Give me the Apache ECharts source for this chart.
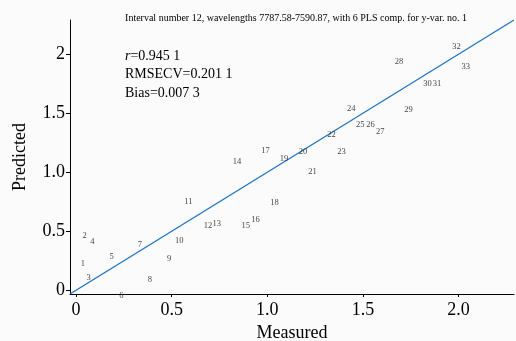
<!DOCTYPE html>
<html>
<head>
<meta charset="utf-8">
<script src="https://cdn.jsdelivr.net/npm/echarts@6/dist/echarts.min.js"></script>
<style>
  html, body { margin: 0; padding: 0; background: #fbfbfb; }
  #chart { width: 516px; height: 341px; }
</style>
</head>
<body>
<div id="chart"></div>
<script>
// sample numbers shown as point labels
const sampleIds = [1, 2, 3, 4, 5, 6, 7, 8, 9, 10, 11, 12, 13, 14, 15, 16, 17,
  18, 19, 20, 21, 22, 23, 24, 25, 26, 27, 28, 29, 30, 31, 32, 33];

// measured values (x)
const measured = [0.035, 0.044, 0.066, 0.085, 0.186, 0.237, 0.334, 0.386, 0.486,
  0.540, 0.587, 0.690, 0.736, 0.842, 0.887, 0.938, 0.990, 1.038, 1.087, 1.187,
  1.236, 1.336, 1.388, 1.439, 1.486, 1.539, 1.590, 1.688, 1.738, 1.837, 1.887,
  1.989, 2.038];

// predicted values (y)
const predicted = [0.222, 0.464, 0.108, 0.408, 0.284, -0.049, 0.386, 0.092, 0.264,
  0.422, 0.753, 0.547, 0.566, 1.086, 0.547, 0.597, 1.182, 0.739, 1.114, 1.171,
  1.004, 1.315, 1.171, 1.536, 1.403, 1.403, 1.346, 1.936, 1.530, 1.747, 1.750,
  2.066, 1.892];

const xTicks = [0, 0.5, 1, 1.5, 2];
const xTickLabels = ["0", "0.5", "1.0", "1.5", "2.0"];
const yTicks = [0, 0.5, 1, 1.5, 2];
const yTickLabels = ["0", "0.5", "1.0", "1.5", "2"];

// axis limits; the 1:1 line runs corner to corner
const axisMin = -0.032;
const axisMax = 2.29;

const titleText = "Interval number 12, wavelengths 7787.58-7590.87, with 6 PLS comp. for y-var. no. 1";
const statR = "0.945 1";
const statRmsecv = "0.201 1";
const statBias = "0.007 3";

const FONT = "Liberation Serif";
const LINE_COLOR = "#1f73c3";

const chart = echarts.init(document.getElementById("chart"));

function tickLabel(ticks, labels) {
  return (v) => {
    const i = ticks.findIndex((t) => Math.abs(t - v) < 1e-6);
    return i >= 0 ? labels[i] : "";
  };
}

const axisCommon = {
  type: "value",
  min: axisMin,
  max: axisMax,
  nameLocation: "middle",
  nameTextStyle: { fontFamily: FONT, fontSize: 18, color: "#000" },
  axisLine: { show: true, onZero: false, lineStyle: { color: "#000", width: 1 } },
  splitLine: { show: false },
};

chart.setOption({
  animation: false,
  backgroundColor: "#fbfbfb",
  grid: { left: 70, right: 2, top: 20, bottom: 47, outerBoundsMode: "none" },
  title: {
    text: titleText,
    left: 291,
    top: 8,
    textAlign: "center",
    textStyle: { fontFamily: FONT, fontSize: 10, fontWeight: "normal", color: "#000" },
  },
  graphic: [
    {
      type: "text",
      left: 125,
      top: 47,
      style: {
        text: "{i|r}=" + statR + "\nRMSECV=" + statRmsecv + "\nBias=" + statBias,
        font: "14px " + FONT,
        lineHeight: 18.5,
        fill: "#000",
        rich: { i: { fontStyle: "italic", fontFamily: FONT, fontSize: 14 } },
      },
    },
  ],
  xAxis: {
    ...axisCommon,
    name: "Measured",
    nameGap: 27,
    axisTick: { show: true, length: 3, customValues: xTicks, lineStyle: { color: "#000" } },
    axisLabel: {
      customValues: xTicks,
      fontFamily: FONT,
      fontSize: 18,
      color: "#000",
      margin: 7,
      formatter: tickLabel(xTicks, xTickLabels),
    },
  },
  yAxis: {
    ...axisCommon,
    name: "Predicted",
    nameGap: 41,
    axisTick: { show: true, length: 4, customValues: yTicks, lineStyle: { color: "#000" } },
    axisLabel: {
      customValues: yTicks,
      fontFamily: FONT,
      fontSize: 18,
      color: "#000",
      margin: 5,
      formatter: tickLabel(yTicks, yTickLabels),
    },
  },
  series: [
    {
      type: "line",
      data: [[axisMin, axisMin], [axisMax, axisMax]],
      symbol: "none",
      lineStyle: { color: LINE_COLOR, width: 1.3 },
      z: 1,
    },
    {
      type: "scatter",
      clip: false,
      data: measured.map((m, i) => ({ value: [m, predicted[i]], name: String(sampleIds[i]) })),
      symbolSize: 1,
      itemStyle: { color: "rgba(0,0,0,0)" },
      label: {
        show: true,
        position: "inside",
        formatter: (p) => p.name,
        fontFamily: FONT,
        fontSize: 8.5,
        color: "#111",
      },
      z: 3,
    },
  ],
});
</script>
</body>
</html>
